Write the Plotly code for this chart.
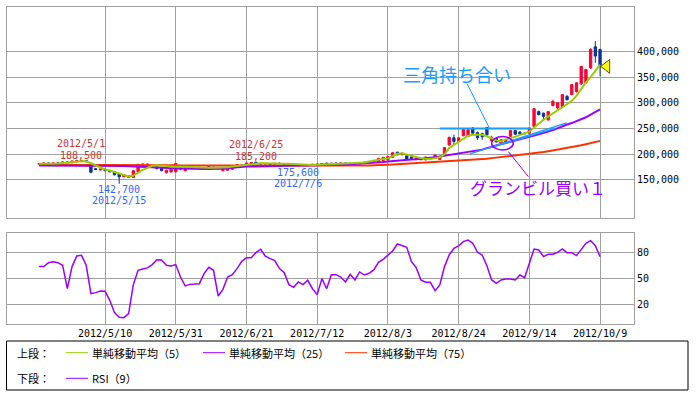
import plotly.graph_objects as go
import pandas as pd

# ---------------- data ----------------
holidays = ['2012-04-30', '2012-05-03', '2012-05-04', '2012-07-16', '2012-09-17', '2012-10-08']
dates = [d for d in pd.bdate_range('2012-04-17', '2012-10-09') if d.strftime('%Y-%m-%d') not in holidays]
date_labels = [f"{d.year}/{d.month}/{d.day}" for d in dates]
idx = list(range(len(dates)))

open_ = [181000, 182000, 183000, 181500, 183000, 182500, 185000, 183500, 186000, 186500,
         188000, 177000, 172000, 169500, 171000, 168000, 166000, 162000, 156500, 155000,
         155000, 166000, 176000, 177000, 175000, 176000, 173000, 164000, 165500, 166000,
         171000, 168000, 175000, 173000, 174000, 174000, 176000, 175000, 174000, 168000,
         169000, 171000, 177000, 179000, 178000, 181000, 184500, 182000, 181000, 182000,
         180000, 182500, 181500, 179500, 180000, 178000, 179000, 178000, 179500, 181000,
         180000, 182500, 181500, 183000, 182000, 183000, 181000, 182500, 181000, 183500,
         184500, 186000, 186000, 188000, 189000, 194000, 204000, 199000, 197000, 195000,
         189500, 191000, 189000, 191000, 192000, 190000, 199000, 218000, 232000, 225000,
         236000, 235000, 251000, 242000, 240000, 252000, 226000, 231000, 222000, 224000,
         235000, 246000, 243000, 241000, 241000, 254000, 283000, 280000, 267000, 295000,
         290000, 293000, 312700, 316000, 322000, 337000, 339000, 368000, 409000, 404000]
high = [183000, 184000, 184000, 184000, 184000, 186000, 186500, 188000, 188000, 188500,
        188000, 178000, 173000, 172000, 172000, 169000, 167000, 163000, 160500, 158500,
        168500, 181000, 182000, 182000, 179000, 177000, 174000, 169500, 172000, 183000,
        178000, 174000, 176000, 175000, 175500, 175000, 177000, 176000, 175000, 174000,
        175000, 178000, 181000, 180000, 183500, 184500, 185200, 183500, 182500, 182500,
        183000, 184000, 182000, 181000, 181000, 180000, 180500, 180000, 181000, 182000,
        183000, 184000, 183000, 184000, 183500, 184000, 183000, 183000, 184000, 185000,
        186500, 188500, 193000, 194500, 196000, 204000, 205000, 203000, 198000, 196000,
        194000, 192000, 195000, 194000, 199000, 196000, 214000, 234000, 238000, 233000,
        249000, 249000, 253000, 244000, 242000, 253000, 236000, 232000, 229000, 230000,
        248000, 247000, 245000, 242000, 252000, 290000, 285000, 281000, 284000, 306000,
        301000, 317000, 315000, 336000, 340000, 372000, 366000, 406000, 420000, 405000]
low = [180000, 181000, 181000, 180500, 182000, 181500, 183000, 183000, 184500, 185500,
       185000, 163000, 169000, 168500, 167000, 165000, 159000, 142700, 155000, 154000,
       154000, 165000, 175000, 176000, 175000, 171000, 167000, 163000, 165000, 165000,
       169000, 167000, 172000, 172000, 172500, 172000, 174500, 173000, 171000, 167000,
       168000, 170000, 176000, 177000, 177500, 180000, 181000, 180000, 179500, 179000,
       179500, 181000, 179000, 178000, 177500, 175600, 177000, 177000, 178000, 179500,
       179500, 181000, 180000, 181500, 181000, 181000, 180000, 180500, 180500, 182500,
       183500, 185000, 185000, 187000, 188000, 193000, 198000, 198000, 190000, 189000,
       189000, 189000, 188500, 190000, 191000, 189000, 198000, 217000, 218000, 224000,
       235000, 234000, 240000, 228000, 228000, 236000, 225000, 223000, 221000, 223000,
       234000, 238000, 238000, 239000, 240000, 253000, 276000, 266000, 265000, 293000,
       288000, 292000, 305000, 315000, 320000, 335000, 337000, 366000, 378000, 352000]
close = [182000, 183000, 181500, 183000, 182500, 185000, 183500, 187000, 187500, 188000,
         185500, 165000, 170500, 171000, 168000, 166000, 160000, 156000, 160000, 158000,
         168000, 180500, 181000, 181000, 178000, 172000, 168000, 169000, 171000, 182000,
         177000, 173000, 173000, 174000, 174500, 173000, 175000, 174000, 172000, 173000,
         174000, 177000, 180000, 178000, 183000, 184000, 182000, 181000, 182000, 180000,
         182500, 181500, 179500, 180500, 178000, 179000, 178000, 179500, 180500, 180000,
         182000, 181500, 182500, 182000, 183000, 181500, 182500, 181000, 183500, 184500,
         186000, 188000, 192000, 194000, 195500, 203000, 199000, 202000, 191000, 190000,
         193500, 189500, 194500, 193500, 198500, 195000, 213000, 233000, 225000, 232000,
         248000, 248000, 241000, 232000, 234000, 238000, 233000, 224000, 228000, 229000,
         246000, 239000, 240000, 240000, 251000, 288700, 277000, 273600, 283000, 303000,
         300000, 316000, 306000, 335500, 339000, 371000, 365000, 404000, 391000, 371000]
ma5 = [181500, 181500, 182000, 182000, 182000, 183000, 183500, 184500, 185500, 186500,
       186500, 182500, 178000, 174000, 170500, 168500, 165500, 161500, 158500, 157000,
       158000, 164500, 169500, 173500, 177500, 178500, 178000, 177000, 175500, 175000,
       175500, 175500, 175000, 174500, 174500, 174000, 174000, 174000, 174000, 174000,
       174500, 176000, 177000, 178000, 179500, 181000, 182000, 182500, 182500, 182000,
       182000, 182000, 181500, 181500, 181000, 180000, 179500, 179000, 179000, 179500,
       180000, 180500, 181000, 181500, 182000, 182000, 182000, 182000, 182500, 184000,
       186000, 188000, 189500, 191000, 192000, 197000, 201000, 202000, 199500, 196500,
       194000, 192500, 191500, 191000, 192500, 194000, 200000, 212000, 218000, 224000,
       230000, 236000, 238000, 238500, 238000, 235000, 231000, 227000, 225000, 229000,
       231000, 234000, 237000, 240000, 244000, 252000, 260000, 267000, 273600, 280000,
       286700, 291500, 297500, 304000, 314000, 327000, 340000, 350000, 362000, 374500]
ma25 = [178000, 178000, 178000, 178000, 178000, 178000, 178000, 178000, 178000, 178000,
        178000, 178000, 178000, 178000, 178000, 178000, 178000, 177500, 177000, 176500,
        176000, 176000, 175500, 175500, 175000, 175000, 174000, 173500, 173000, 173000,
        172500, 172500, 172000, 172000, 171500, 171500, 171500, 171500, 171500, 172000,
        172500, 174000, 175000, 175500, 176000, 176000, 176000, 176500, 176500, 177000,
        177000, 177000, 177500, 177500, 178000, 178000, 178000, 178000, 178500, 178500,
        179000, 179000, 179000, 179000, 179500, 180000, 180500, 181000, 181500, 182000,
        183000, 183500, 184000, 185000, 186000, 187000, 188000, 189000, 189500, 190000,
        190500, 191000, 192000, 193000, 194000, 195500, 197000, 198500, 200000, 201000,
        202500, 204000, 205000, 207000, 209000, 212000, 215000, 217500, 220000, 222000,
        224800, 227000, 229000, 231500, 234600, 236500, 239000, 241000, 244000, 247000,
        251000, 254500, 258000, 260700, 264000, 268000, 272000, 277000, 282000, 287500]
ma75 = [179500, 179500, 179500, 179500, 179500, 179500, 179500, 179500, 179500, 179500,
        179000, 179000, 179000, 179000, 179000, 179000, 179000, 179000, 179000, 179000,
        178500, 178500, 178500, 178500, 178500, 178500, 178500, 178500, 178500, 178500,
        178000, 178000, 178000, 178000, 178000, 178000, 178000, 178000, 178000, 178000,
        177500, 177500, 177500, 177500, 177500, 177500, 177500, 177500, 177500, 177500,
        177000, 177000, 177000, 177000, 177000, 177000, 177000, 177000, 177000, 177000,
        177000, 177000, 177000, 177000, 177000, 177000, 177000, 177500, 177500, 178000,
        178000, 178500, 178500, 179000, 179500, 180000, 180500, 181000, 181500, 182000,
        182500, 183000, 183500, 184000, 184500, 185500, 186000, 186500, 187000, 187500,
        188000, 189000, 189500, 190000, 191000, 191500, 192500, 193500, 194500, 195500,
        196500, 197500, 198500, 199500, 200500, 202000, 203000, 204500, 206000, 207500,
        209000, 210500, 212000, 213500, 215500, 217500, 219500, 221500, 223500, 226000]
rsi9 = [63.5, 63.5, 68, 69, 68, 65, 38, 63.5, 75.8, 76.5,
        65, 32.3, 33.5, 35.4, 35, 24.6, 10.4, 5, 4.6, 9.2,
        42.7, 59.2, 60.8, 62, 65.8, 71.5, 71.2, 65, 64.2, 65.8,
        51.5, 41.2, 43, 43.8, 43.8, 55.4, 62.7, 59.2, 29.6, 37.3,
        51.5, 54.2, 61.2, 69.6, 73.8, 73.8, 79.6, 83.5, 75.4, 72.7,
        70.4, 61.2, 56.5, 42.7, 39.6, 45.8, 42.7, 47.7, 38, 31.2,
        49.6, 38, 54.2, 54.2, 51.5, 45.8, 54.6, 48.1, 57.3, 53.8,
        55.8, 59.6, 68.5, 71.9, 76.2, 81.5, 89.6, 87.7, 85.8, 69.2,
        62.3, 48.1, 45.4, 45.4, 35.8, 42.3, 63.5, 76.9, 84.6, 87.3,
        92.3, 94.2, 90.4, 80, 76.9, 64.6, 48.1, 44.2, 48.1, 49.2,
        49.2, 48.1, 53.8, 50.8, 67.3, 83.8, 82.7, 75, 77.7, 77.7,
        80, 83.8, 79.6, 79.6, 76.2, 82.7, 90.4, 93.5, 87.7, 75]

x_tick_labels = ['2012/5/10', '2012/5/31', '2012/6/21', '2012/7/12',
                 '2012/8/3', '2012/8/24', '2012/9/14', '2012/10/9']
price_ticks = [150000, 200000, 250000, 300000, 350000, 400000]
rsi_ticks = [20, 50, 80]

# marked highs / lows: (date, value, kind)
extremes = [('2012/5/1', 188500, 'high'), ('2012/5/15', 142700, 'low'),
            ('2012/6/25', 185200, 'high'), ('2012/7/6', 175600, 'low')]

# hand-drawn chart analysis (index, price)
tri_top_x, tri_top_y = [85.0, 104.3], [250000, 250000]
tri_low1_x, tri_low1_y = [91.4, 111.9], [200700, 261100]
tri_low2_x, tri_low2_y = [95.3, 109.6], [211800, 250800]
tri_lead_x, tri_lead_y = [90.8, 95.5], [337100, 251300]
gran_circle_x, gran_circle_y = [96.0, 100.6], [208500, 234400]
gran_lead_x, gran_lead_y = [99.55, 103.8], [205200, 156400]
tri_label = ('三角持ち合い', 88.7, 355600)
gran_label = ('グランビル買い１', 105.9, 134400)

# ---------------- figure ----------------
C_UP, C_DN = '#ff0033', '#0a3399'
C_MA5, C_MA25, C_MA75 = '#99cc00', '#9900ff', '#ff3300'
C_RSI = '#9900ff'
GRID = '#a0a0a0'
MONO = 'DejaVu Sans Mono, Noto Sans CJK JP'
JP = 'Noto Sans CJK JP'

fig = go.Figure()
fig.add_trace(go.Scatter(x=idx, y=ma75, mode='lines', line=dict(color=C_MA75, width=2),
                         hoverinfo='skip', showlegend=False))
fig.add_trace(go.Scatter(x=idx, y=ma25, mode='lines', line=dict(color=C_MA25, width=2),
                         hoverinfo='skip', showlegend=False))
fig.add_trace(go.Candlestick(x=idx, open=open_, high=high, low=low, close=close,
                             increasing=dict(line=dict(color=C_UP, width=1), fillcolor=C_UP),
                             decreasing=dict(line=dict(color=C_DN, width=1), fillcolor=C_DN),
                             whiskerwidth=0, hoverinfo='skip', showlegend=False))
fig.add_trace(go.Scatter(x=idx, y=ma5, mode='lines', line=dict(color=C_MA5, width=2),
                         hoverinfo='skip', showlegend=False))
# marker of the latest close
fig.add_trace(go.Scatter(x=[idx[-1] + 1.4], y=[close[-1]], mode='markers',
                         marker=dict(symbol='triangle-left', size=12, color='#ffff00',
                                     line=dict(color='#555500', width=1)),
                         hoverinfo='skip', showlegend=False))
fig.add_trace(go.Scatter(x=idx, y=rsi9, mode='lines', line=dict(color=C_RSI, width=1.5),
                         xaxis='x2', yaxis='y2', hoverinfo='skip', showlegend=False))

tick_pos = [date_labels.index(s) for s in x_tick_labels]

shapes = []
annotations = []

def seg(xs, ys, color, width=1.5):
    shapes.append(dict(type='line', xref='x', yref='y', x0=xs[0], x1=xs[1], y0=ys[0], y1=ys[1],
                       line=dict(color=color, width=width)))

seg(tri_top_x, tri_top_y, '#1a9cff', 2)
seg(tri_low1_x, tri_low1_y, '#1a9cff', 1.5)
seg(tri_low2_x, tri_low2_y, '#1a9cff', 1.5)
seg(tri_lead_x, tri_lead_y, '#1a9cff', 1)
seg(gran_lead_x, gran_lead_y, '#9900ff', 1)
shapes.append(dict(type='circle', xref='x', yref='y', x0=gran_circle_x[0], x1=gran_circle_x[1],
                   y0=gran_circle_y[0], y1=gran_circle_y[1], line=dict(color='#9900ff', width=1.5)))

annotations.append(dict(x=tri_label[1], y=tri_label[2], xref='x', yref='y', text=tri_label[0],
                        showarrow=False, font=dict(family=JP, size=18, color='#1a9cff')))
annotations.append(dict(x=gran_label[1], y=gran_label[2], xref='x', yref='y', text=gran_label[0],
                        showarrow=False, font=dict(family=JP, size=17, color='#9900ff')))

for d, v, kind in extremes:
    xi = date_labels.index(d)
    if kind == 'high':
        col, s1, s2 = '#cc3333', 5, 17
    else:
        col, s1, s2 = '#3366ff', -6, -17
    annotations.append(dict(x=xi, y=v, xref='x', yref='y', text=f"{v:,}", showarrow=False,
                            yshift=s1, font=dict(family=MONO, size=10, color=col)))
    annotations.append(dict(x=xi, y=v, xref='x', yref='y', text=d, showarrow=False,
                            yshift=s2, font=dict(family=MONO, size=10, color=col)))

# ---------- legend box (layout, in pixels of the 696x395 page) ----------
L, R, T, B = 7, 62, 7, 71
PW, PH = 696 - L - R, 395 - T - B
def px(xp):
    return (xp - L) / PW
def py(yp):
    return (395 - B - yp) / PH

shapes.append(dict(type='rect', xref='paper', yref='paper', x0=px(6.5), x1=px(688), y0=py(341), y1=py(390),
                   line=dict(color='#000000', width=1), fillcolor='rgba(0,0,0,0)'))
legend_rows = [
    (352.7, '上段：', [(C_MA5, 66, '単純移動平均（5）'), (C_MA25, 203, '単純移動平均（25）'),
                    (C_MA75, 345, '単純移動平均（75）')]),
    (378.3, '下段：', [(C_RSI, 66, 'RSI（9）')]),
]
for yy, head, items in legend_rows:
    annotations.append(dict(x=px(15), y=py(yy), xref='paper', yref='paper', text=head, showarrow=False,
                            xanchor='left', yanchor='middle', font=dict(family=JP, size=11, color='#000')))
    for col, x0, txt in items:
        shapes.append(dict(type='line', xref='paper', yref='paper', x0=px(x0), x1=px(x0 + 22),
                           y0=py(yy), y1=py(yy), line=dict(color=col, width=1)))
        annotations.append(dict(x=px(x0 + 24), y=py(yy), xref='paper', yref='paper', text=txt,
                                showarrow=False, xanchor='left', yanchor='middle',
                                font=dict(family=JP, size=11, color='#000')))

axis_common = dict(showgrid=True, gridcolor=GRID, gridwidth=1, showline=True, linecolor=GRID,
                   linewidth=1, mirror=True, zeroline=False, ticks='', fixedrange=True)

fig.update_layout(
    width=696, height=395,
    margin=dict(l=L, r=R, t=T, b=B),
    paper_bgcolor='white', plot_bgcolor='white',
    showlegend=False,
    xaxis=dict(domain=[0, 1], anchor='y', range=[-6.8, 126.2], tickvals=tick_pos,
               showticklabels=False, rangeslider=dict(visible=False), **axis_common),
    yaxis=dict(domain=[0.3334, 1], anchor='x', side='right', range=[75400, 486500],
               tickvals=price_ticks, tickformat=',d',
               tickfont=dict(family=MONO, size=10, color='#000'), **axis_common),
    xaxis2=dict(domain=[0, 1], anchor='y2', range=[-6.8, 126.2], tickvals=tick_pos,
                ticktext=x_tick_labels, tickfont=dict(family=MONO, size=10, color='#000'),
                **axis_common),
    yaxis2=dict(domain=[0, 0.2861], anchor='x2', side='right', range=[-2.7, 101.9],
                tickvals=rsi_ticks, tickfont=dict(family=MONO, size=10, color='#000'),
                **axis_common),
    shapes=shapes,
    annotations=annotations,
)

fig.write_html('out.html', config={'displayModeBar': False},
               post_script="document.body.style.margin='0';")
